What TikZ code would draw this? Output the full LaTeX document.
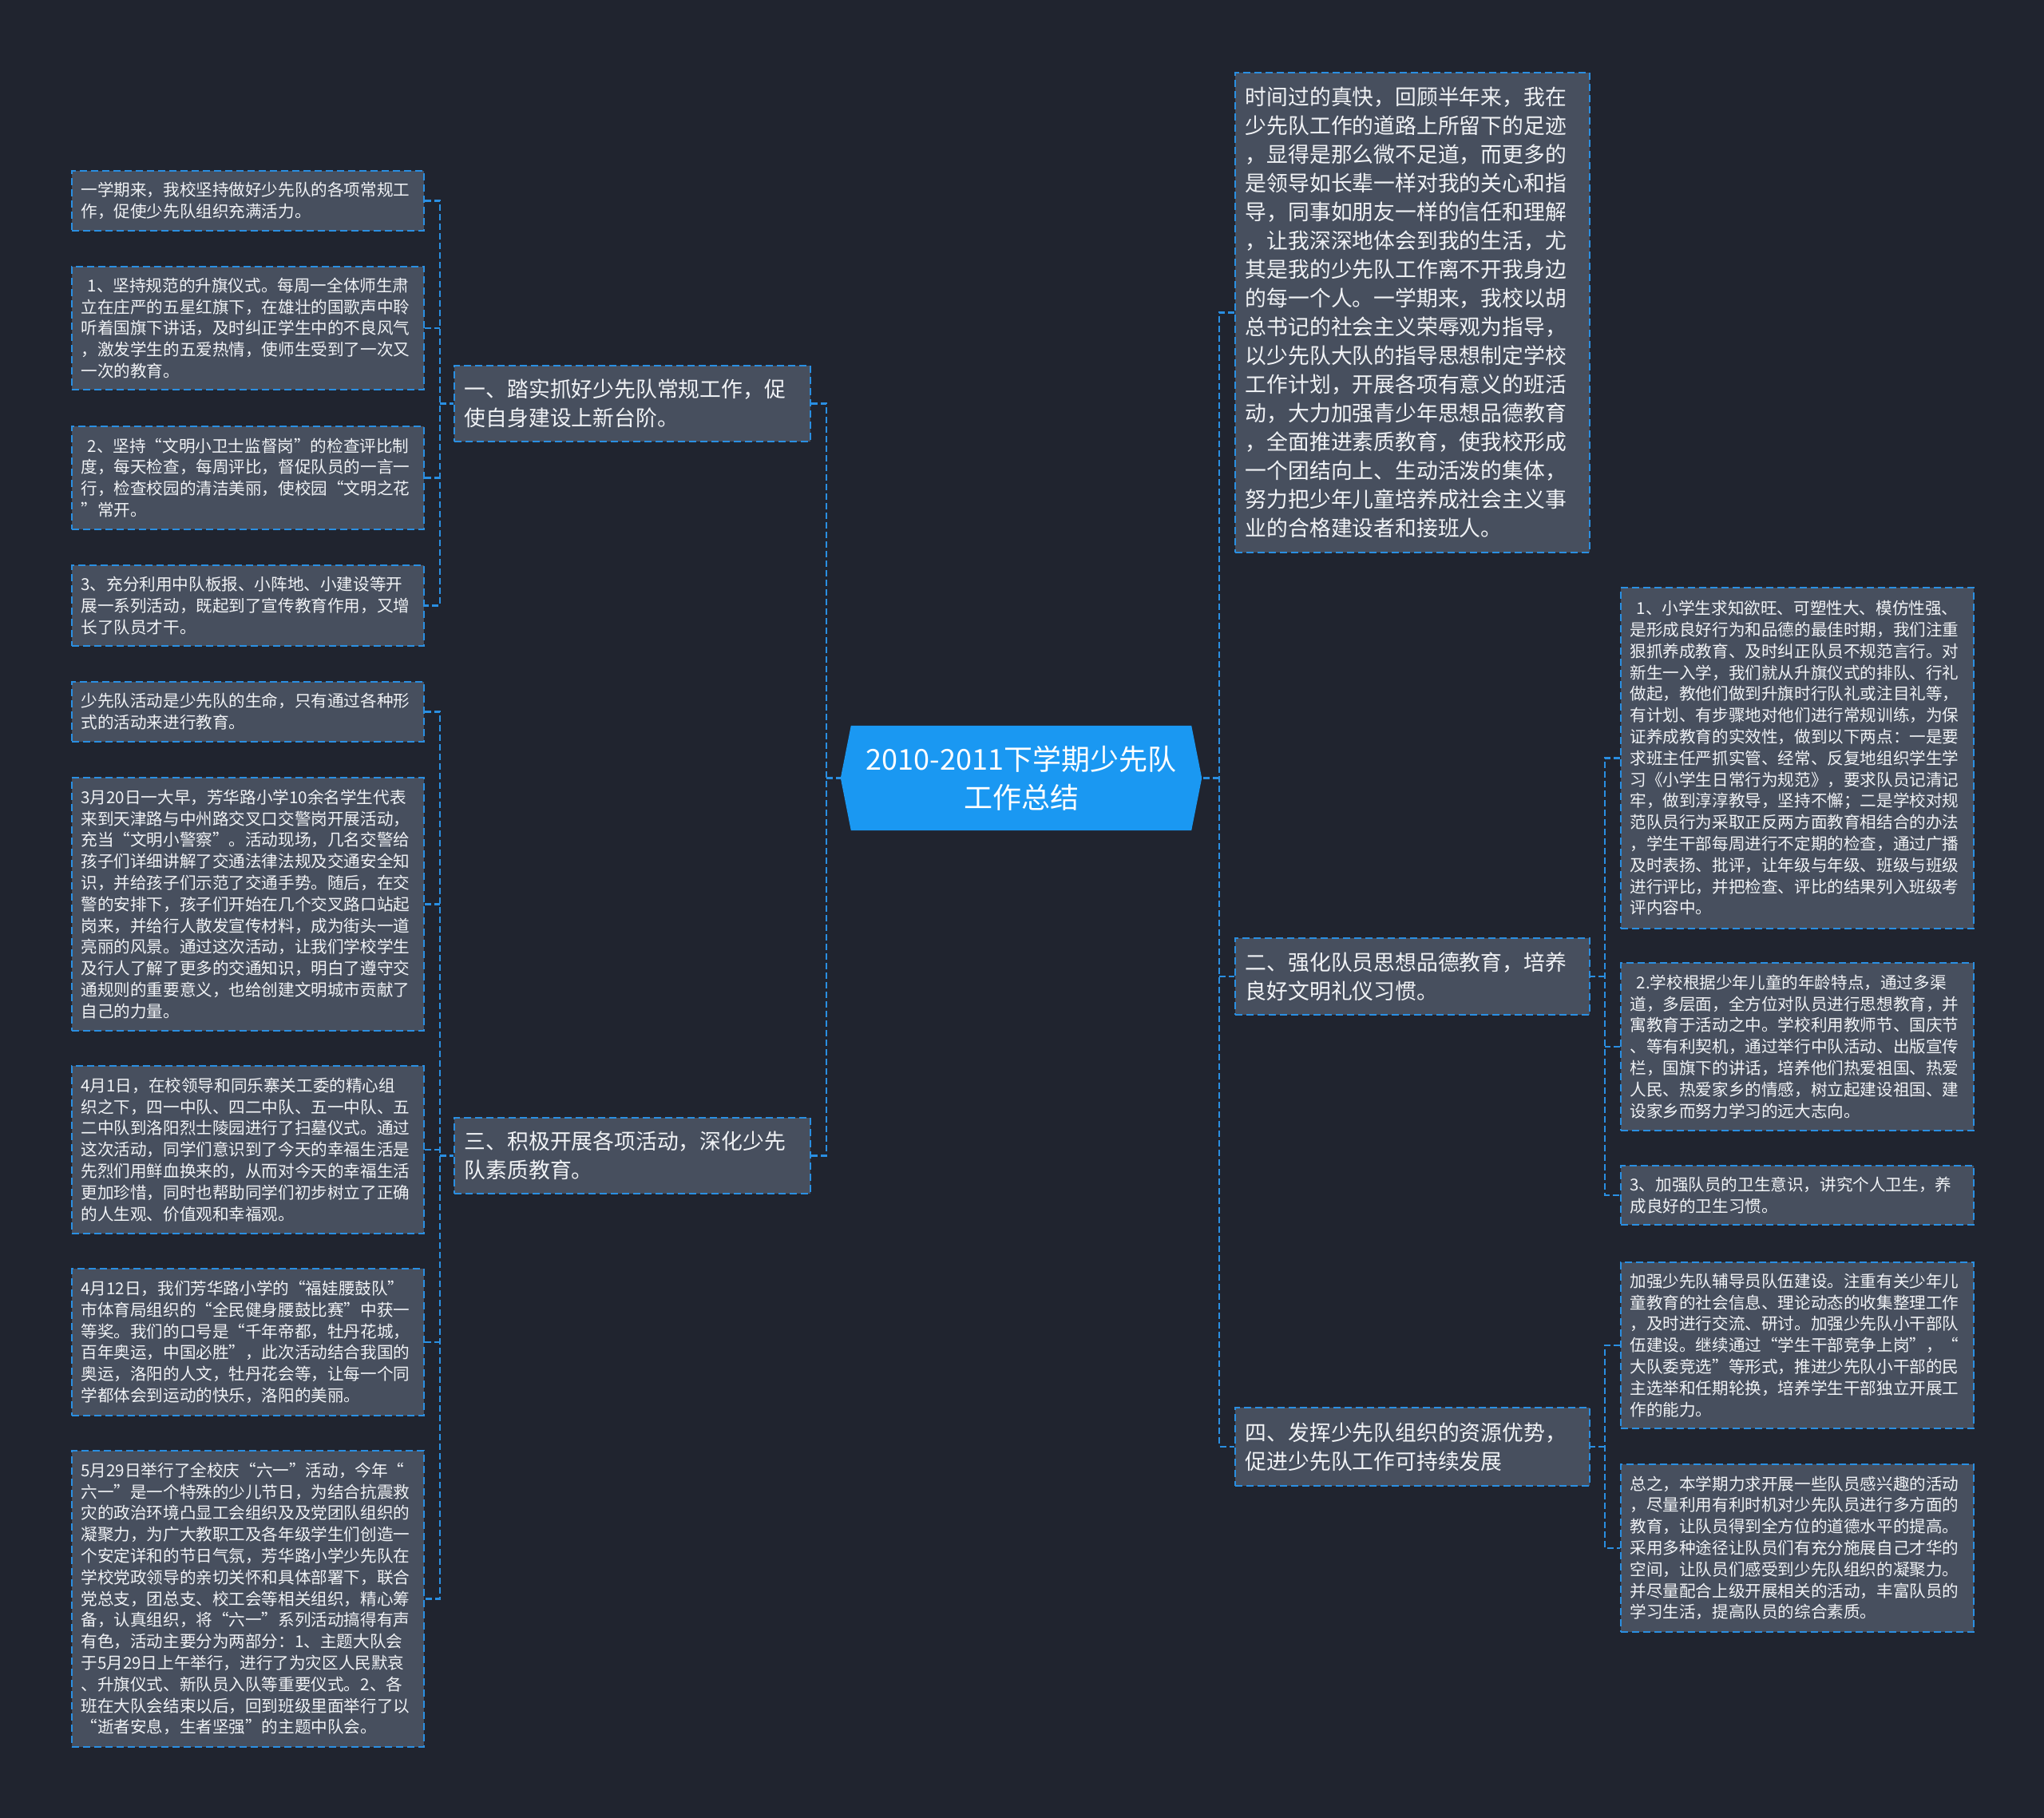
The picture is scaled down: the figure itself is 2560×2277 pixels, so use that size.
\documentclass[tikz,border=0pt]{standalone}
\usepackage{fontspec}
\newfontfamily\cjk{Noto Sans CJK SC}
\usetikzlibrary{backgrounds}
\definecolor{bgc}{HTML}{20242F}
\definecolor{boxc}{HTML}{474F5E}
\definecolor{bordc}{HTML}{2A8FE2}
\definecolor{txtc}{HTML}{F0F2F5}
\definecolor{cfill}{HTML}{1A98F2}
\newcommand\leaffont{\cjk\fontsize{20.6}{26.8}\selectfont}
\newcommand\branchfont{\cjk\fontsize{26.8}{36}\selectfont}
\newcommand\centerfont{\cjk\fontsize{36}{48}\selectfont}
\tikzset{
  boxbase/.style={draw=bordc, fill=boxc, dash pattern=on 9pt off 5pt, line width=1.8pt,
    text=txtc, align=left, inner ysep=0pt, anchor=north west},
  leaf/.style={boxbase, font=\leaffont, text width=418pt, inner xsep=11.5pt},
  branch/.style={boxbase, font=\branchfont, text width=420pt, inner xsep=13pt},
  ctext/.style={text=white, font=\centerfont, align=center, inner sep=0pt,
    minimum width=452pt, minimum height=131pt},
  conn/.style={draw=bordc, line width=2.6pt, dash pattern=on 8pt off 4pt}
}
\begin{document}
\begin{tikzpicture}[x=1pt,y=-1pt]
\useasboundingbox (0,0) rectangle (2560,2277);

% ---------- left leaves ----------
\node[leaf, minimum height=75pt] (l1) at (89,213) {一学期来，我校坚持做好少先队的各项常规工\\作，促使少先队组织充满活力。};
\node[leaf, minimum height=154pt] (l2) at (89,333) {\hspace*{0.4em}1、坚持规范的升旗仪式。每周一全体师生肃\\立在庄严的五星红旗下，在雄壮的国歌声中聆\\听着国旗下讲话，及时纠正学生中的不良风气\\，激发学生的五爱热情，使师生受到了一次又\\一次的教育。};
\node[leaf, minimum height=129pt] (l3) at (89,533) {\hspace*{0.4em}2、坚持“文明小卫士监督岗”的检查评比制\\度，每天检查，每周评比，督促队员的一言一\\行，检查校园的清洁美丽，使校园“文明之花\\”常开。};
\node[leaf, minimum height=101pt] (l4) at (89,707) {3、充分利用中队板报、小阵地、小建设等开\\展一系列活动，既起到了宣传教育作用，又增\\长了队员才干。};
\node[leaf, minimum height=75pt] (l5) at (89,853) {少先队活动是少先队的生命，只有通过各种形\\式的活动来进行教育。};
\node[leaf, minimum height=317pt] (l6) at (89,973) {3月20日一大早，芳华路小学10余名学生代表\\来到天津路与中州路交叉口交警岗开展活动，\\充当“文明小警察”。活动现场，几名交警给\\孩子们详细讲解了交通法律法规及交通安全知\\识，并给孩子们示范了交通手势。随后，在交\\警的安排下，孩子们开始在几个交叉路口站起\\岗来，并给行人散发宣传材料，成为街头一道\\亮丽的风景。通过这次活动，让我们学校学生\\及行人了解了更多的交通知识，明白了遵守交\\通规则的重要意义，也给创建文明城市贡献了\\自己的力量。};
\node[leaf, minimum height=210pt] (l7) at (89,1334) {4月1日，在校领导和同乐寨关工委的精心组\\织之下，四一中队、四二中队、五一中队、五\\二中队到洛阳烈士陵园进行了扫墓仪式。通过\\这次活动，同学们意识到了今天的幸福生活是\\先烈们用鲜血换来的，从而对今天的幸福生活\\更加珍惜，同时也帮助同学们初步树立了正确\\的人生观、价值观和幸福观。};
\node[leaf, minimum height=184pt] (l8) at (89,1588) {4月12日，我们芳华路小学的“福娃腰鼓队”\\市体育局组织的“全民健身腰鼓比赛”中获一\\等奖。我们的口号是“千年帝都，牡丹花城，\\百年奥运，中国必胜”，此次活动结合我国的\\奥运，洛阳的人文，牡丹花会等，让每一个同\\学都体会到运动的快乐，洛阳的美丽。};
\node[leaf, minimum height=371pt] (l9) at (89,1816) {5月29日举行了全校庆“六一”活动，今年“\\六一”是一个特殊的少儿节日，为结合抗震救\\灾的政治环境凸显工会组织及及党团队组织的\\凝聚力，为广大教职工及各年级学生们创造一\\个安定详和的节日气氛，芳华路小学少先队在\\学校党政领导的亲切关怀和具体部署下，联合\\党总支，团总支、校工会等相关组织，精心筹\\备，认真组织，将“六一”系列活动搞得有声\\有色，活动主要分为两部分：1、主题大队会\\于5月29日上午举行，进行了为灾区人民默哀\\、升旗仪式、新队员入队等重要仪式。2、各\\班在大队会结束以后，回到班级里面举行了以\\“逝者安息，生者坚强”的主题中队会。};

% ---------- branches ----------
\node[branch, minimum height=95pt] (b1) at (568,457) {一、踏实抓好少先队常规工作，促\\使自身建设上新台阶。};
\node[branch, minimum height=95pt] (b3) at (568,1399) {三、积极开展各项活动，深化少先\\队素质教育。};
\node[branch, text width=418pt, minimum height=601pt] (r0) at (1546,90) {时间过的真快，回顾半年来，我在\\少先队工作的道路上所留下的足迹\\，显得是那么微不足道，而更多的\\是领导如长辈一样对我的关心和指\\导，同事如朋友一样的信任和理解\\，让我深深地体会到我的生活，尤\\其是我的少先队工作离不开我身边\\的每一个人。一学期来，我校以胡\\总书记的社会主义荣辱观为指导，\\以少先队大队的指导思想制定学校\\工作计划，开展各项有意义的班活\\动，大力加强青少年思想品德教育\\，全面推进素质教育，使我校形成\\一个团结向上、生动活泼的集体，\\努力把少年儿童培养成社会主义事\\业的合格建设者和接班人。};
\node[branch, text width=418pt, minimum height=96pt] (b2) at (1546,1174) {二、强化队员思想品德教育，培养\\良好文明礼仪习惯。};
\node[branch, text width=418pt, minimum height=98pt] (b4) at (1546,1762) {四、发挥少先队组织的资源优势，\\促进少先队工作可持续发展};

% ---------- right leaves ----------
\node[leaf, text width=419pt, minimum height=427pt] (r1) at (2029,735) {\hspace*{0.4em}1、小学生求知欲旺、可塑性大、模仿性强、\\是形成良好行为和品德的最佳时期，我们注重\\狠抓养成教育、及时纠正队员不规范言行。对\\新生一入学，我们就从升旗仪式的排队、行礼\\做起，教他们做到升旗时行队礼或注目礼等，\\有计划、有步骤地对他们进行常规训练，为保\\证养成教育的实效性，做到以下两点：一是要\\求班主任严抓实管、经常、反复地组织学生学\\习《小学生日常行为规范》，要求队员记清记\\牢，做到淳淳教导，坚持不懈；二是学校对规\\范队员行为采取正反两方面教育相结合的办法\\，学生干部每周进行不定期的检查，通过广播\\及时表扬、批评，让年级与年级、班级与班级\\进行评比，并把检查、评比的结果列入班级考\\评内容中。};
\node[leaf, text width=419pt, minimum height=210pt] (r2) at (2029,1205) {\hspace*{0.4em}2.学校根据少年儿童的年龄特点，通过多渠\\道，多层面，全方位对队员进行思想教育，并\\寓教育于活动之中。学校利用教师节、国庆节\\、等有利契机，通过举行中队活动、出版宣传\\栏，国旗下的讲话，培养他们热爱祖国、热爱\\人民、热爱家乡的情感，树立起建设祖国、建\\设家乡而努力学习的远大志向。};
\node[leaf, text width=419pt, minimum height=74pt] (r3) at (2029,1459) {3、加强队员的卫生意识，讲究个人卫生，养\\成良好的卫生习惯。};
\node[leaf, text width=419pt, minimum height=208pt] (r4) at (2029,1580) {加强少先队辅导员队伍建设。注重有关少年儿\\童教育的社会信息、理论动态的收集整理工作\\，及时进行交流、研讨。加强少先队小干部队\\伍建设。继续通过“学生干部竞争上岗”，“\\大队委竞选”等形式，推进少先队小干部的民\\主选举和任期轮换，培养学生干部独立开展工\\作的能力。};
\node[leaf, text width=419pt, minimum height=210pt] (r5) at (2029,1833) {总之，本学期力求开展一些队员感兴趣的活动\\，尽量利用有利时机对少先队员进行多方面的\\教育，让队员得到全方位的道德水平的提高。\\采用多种途径让队员们有充分施展自己才华的\\空间，让队员们感受到少先队组织的凝聚力。\\并尽量配合上级开展相关的活动，丰富队员的\\学习生活，提高队员的综合素质。};

% ---------- center ----------
\node[ctext] (c) at (1279,974.5) {2010-2011下学期少先队\\工作总结};

% ---------- connectors ----------
\draw[conn] (b1.east) -- ++(19,0) coordinate (tl) -- (tl |- b3.east) -- (b3.east);
\draw[conn] (tl |- c.west) -- (c.west);
\draw[conn] (r0.west) -- ++(-19,0) coordinate (tr) -- (tr |- b4.west) -- (b4.west);
\draw[conn] (tr |- b2.west) -- (b2.west);
\draw[conn] (tr |- c.east) -- (c.east);
\draw[conn] (l1.east) -- ++(19,0) coordinate (ta) -- (ta |- l4.east) -- (l4.east);
\draw[conn] (l2.east) -- (ta |- l2.east);
\draw[conn] (l3.east) -- (ta |- l3.east);
\draw[conn] (ta |- b1.west) -- (b1.west);
\draw[conn] (l5.east) -- ++(19,0) coordinate (tb) -- (tb |- l9.east) -- (l9.east);
\draw[conn] (l6.east) -- (tb |- l6.east);
\draw[conn] (l7.east) -- (tb |- l7.east);
\draw[conn] (l8.east) -- (tb |- l8.east);
\draw[conn] (tb |- b3.west) -- (b3.west);
\draw[conn] (r1.west) -- ++(-19,0) coordinate (tc) -- (tc |- r3.west) -- (r3.west);
\draw[conn] (r2.west) -- (tc |- r2.west);
\draw[conn] (tc |- b2.east) -- (b2.east);
\draw[conn] (r4.west) -- ++(-19,0) coordinate (td) -- (td |- r5.west) -- (r5.west);
\draw[conn] (td |- b4.east) -- (b4.east);

% ---------- background layer ----------
\begin{scope}[on background layer]
\fill[bgc] (0,0) rectangle (2560,2277);
\fill[cfill] ([xshift=13pt]c.north west) -- ([xshift=-13pt]c.north east) -- (c.east)
  -- ([xshift=-13pt]c.south east) -- ([xshift=13pt]c.south west) -- (c.west) -- cycle;
\end{scope}
\end{tikzpicture}
\end{document}
